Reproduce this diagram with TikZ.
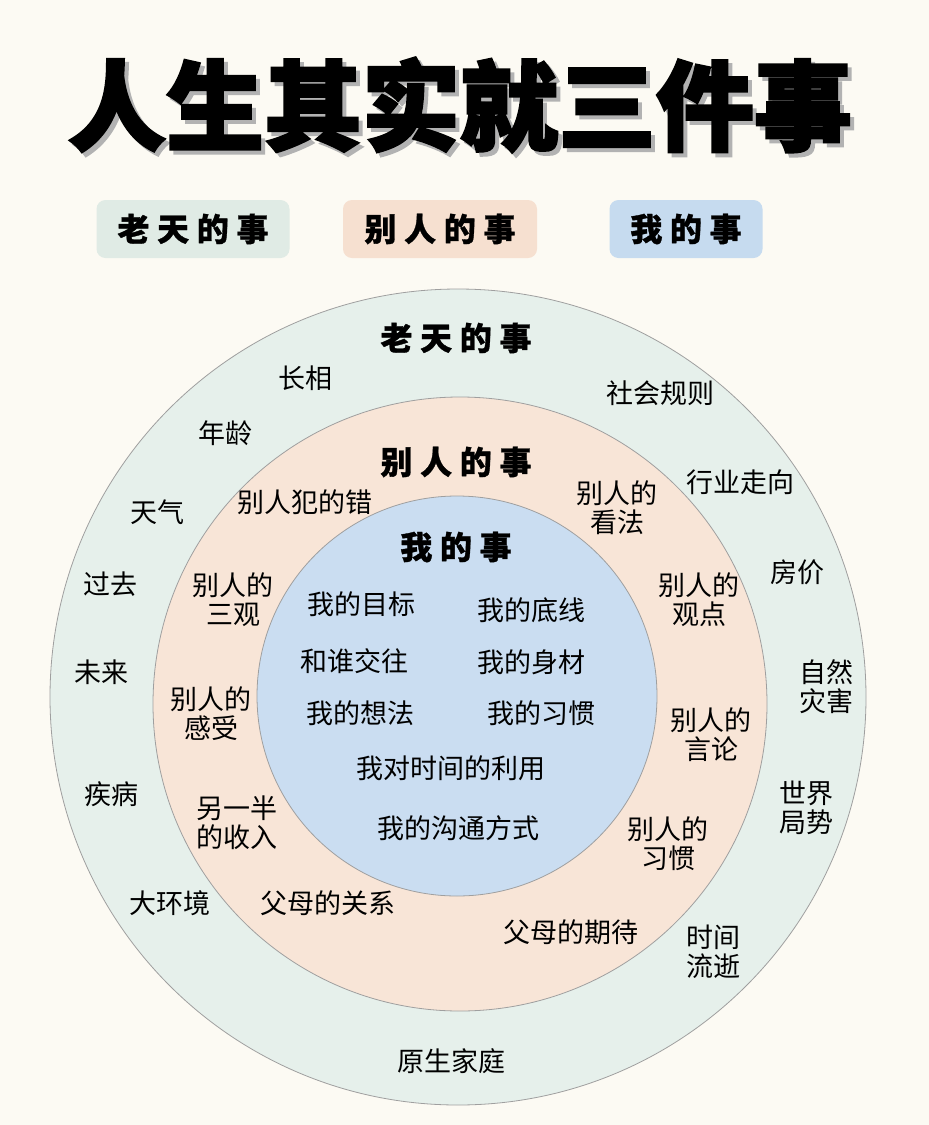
\documentclass[tikz,border=0pt]{standalone}
\usepackage{fontspec}
\newfontfamily\cjk{Noto Sans CJK SC}
\newfontfamily\cjkhead{Noto Sans CJK SC}[LetterSpace=24, BoldFeatures={FakeBold=1}]
\newfontfamily\cjktitle{Noto Sans CJK SC}[BoldFeatures={FakeBold=2.5}]
\definecolor{bgcol}{HTML}{FCFAF3}
\definecolor{skycol}{HTML}{E6F0EB}
\definecolor{otherscol}{HTML}{F8E5D7}
\definecolor{minecol}{HTML}{CADDF1}
\definecolor{skytag}{HTML}{E0EBE5}
\definecolor{otherstag}{HTML}{F6E0D0}
\definecolor{minetag}{HTML}{C6DBEF}
\tikzset{
  titletext/.style={font=\cjktitle\bfseries\fontsize{98}{98}\selectfont, text=black},
  tagbox/.style={rectangle, rounded corners=9pt, minimum height=58pt, inner sep=0pt, font=\cjkhead\bfseries\fontsize{32}{32}\selectfont},
  ringhead/.style={font=\cjkhead\bfseries\fontsize{32}{32}\selectfont},
  ringitem/.style={font=\cjk\fontsize{27}{29}\selectfont, align=center, inner sep=0pt},
  ringline/.style={draw=gray!75, line width=0.8pt}
}

\begin{document}
\begin{tikzpicture}[x=1pt, y=-1pt]
    \useasboundingbox (0,0) rectangle (929,1125);
    \fill[bgcol] (0,0) rectangle (929,1125);

    % Titel
    \node (shadow) [titletext, text=gray!60] at (464,109) {人生其实就三件事};
    \node (title) [titletext] at (460,105) {人生其实就三件事};

    % Legende
    \node (tagsky) [tagbox, fill=skytag, minimum width=193pt] at (193,229) {老天的事};
    \node (tagothers) [tagbox, fill=otherstag, minimum width=194pt] at (440,229) {别人的事};
    \node (tagmine) [tagbox, fill=minetag, minimum width=153pt] at (686,229) {我的事};

    % Kreise
    \fill[skycol] (458,697) circle [radius=408pt];
    \draw[ringline] (458,697) circle [radius=408pt];
    \fill[otherscol] (460,704) circle [radius=307pt];
    \draw[ringline] (460,704) circle [radius=307pt];
    \fill[minecol] (457,696) circle [radius=200pt];
    \draw[ringline] (457,696) circle [radius=200pt];

    % Aussenring
    \node (sky) [ringhead] at (456,338) {老天的事};
    \node (looks) [ringitem] at (305,378) {长相};
    \node (rules) [ringitem] at (660,393) {社会规则};
    \node (age) [ringitem] at (225,433) {年龄};
    \node (trend) [ringitem] at (740,482) {行业走向};
    \node (weather) [ringitem] at (157,512) {天气};
    \node (past) [ringitem] at (110,584) {过去};
    \node (price) [ringitem] at (797,572) {房价};
    \node (future) [ringitem] at (101,672) {未来};
    \node (disaster) [ringitem] at (826,687) {自然\\灾害};
    \node (illness) [ringitem] at (111,794) {疾病};
    \node (world) [ringitem] at (806,808) {世界\\局势};
    \node (env) [ringitem] at (170,903) {大环境};
    \node (time) [ringitem] at (713,952) {时间\\流逝};
    \node (family) [ringitem] at (451,1061) {原生家庭};

    % Mittelring
    \node (others) [ringhead] at (456,462) {别人的事};
    \node (mistake) [ringitem] at (305,502) {别人犯的错};
    \node (view) [ringitem] at (617,508) {别人的\\看法};
    \node (values) [ringitem] at (233,600) {别人的\\三观};
    \node (opinion) [ringitem] at (699,600) {别人的\\观点};
    \node (feeling) [ringitem] at (211,714) {别人的\\感受};
    \node (speech) [ringitem] at (711,735) {别人的\\言论};
    \node (income) [ringitem] at (237,823) {另一半\\的收入};
    \node (habitother) [ringitem] at (668,844) {别人的\\习惯};
    \node (parentsrel) [ringitem] at (328,903) {父母的关系};
    \node (parentsexp) [ringitem] at (571,932) {父母的期待};

    % Innenkreis
    \node (mine) [ringhead] at (456,547) {我的事};
    \node (goal) [ringitem] at (361,604) {我的目标};
    \node (bottom) [ringitem] at (531,610) {我的底线};
    \node (friends) [ringitem] at (354,661) {和谁交往};
    \node (body) [ringitem] at (531,662) {我的身材};
    \node (thought) [ringitem] at (360,713) {我的想法};
    \node (habit) [ringitem] at (541,713) {我的习惯};
    \node (usetime) [ringitem] at (451,768) {我对时间的利用};
    \node (talk) [ringitem] at (458,828) {我的沟通方式};

\end{tikzpicture}
\end{document}
